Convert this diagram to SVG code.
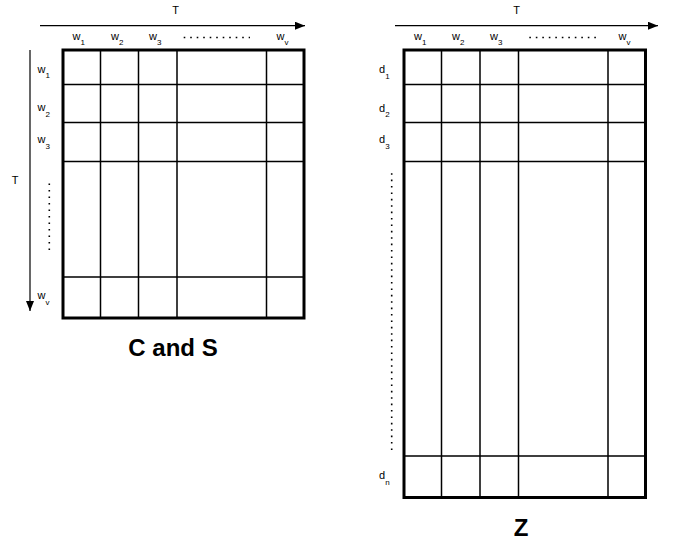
<svg xmlns="http://www.w3.org/2000/svg" width="675" height="541" viewBox="0 0 675 541">
<style>
.lbl{font-family:"Liberation Sans",Arial,sans-serif;font-size:11px;fill:#000}
.sub{font-size:8px}
.title{font-family:"Liberation Sans",Arial,sans-serif;font-size:24px;font-weight:bold;fill:#000}
.outer{fill:#fff;stroke:#000;stroke-width:3}
.grid{stroke:#000;stroke-width:1.5;fill:none}
.axis{stroke:#000;stroke-width:1.2;fill:none}
.dots{stroke:#000;stroke-width:1.6;fill:none;stroke-dasharray:1.6 4.9}
</style>
<defs>
<marker id="ah" markerWidth="10" markerHeight="8" refX="10" refY="4" orient="auto" markerUnits="userSpaceOnUse">
<path d="M0,0 L10,4 L0,8 Z" fill="#000"/>
</marker>
</defs>
<g id="connectors">
<line class="axis" x1="40" y1="25.7" x2="305" y2="25.7" marker-end="url(#ah)"/>
<line class="axis" x1="30" y1="50" x2="30" y2="311" marker-end="url(#ah)"/>
<line class="axis" x1="395" y1="25.7" x2="658" y2="25.7" marker-end="url(#ah)"/>
</g>
<g id="matrix-CS">
<rect class="outer" x="63" y="50" width="241" height="268"/>
<path class="grid" d="M100.5,50V318M138.5,50V318M177,50V318M266.5,50V318M63,84.5H304M63,122.5H304M63,161.5H304M63,277H304"/>
<text class="lbl" x="175.5" y="14" text-anchor="middle">T</text>
<text class="lbl" x="72.5" y="39.5">w<tspan class="sub" dy="5.5">1</tspan></text>
<text class="lbl" x="111" y="39.5">w<tspan class="sub" dy="5.5">2</tspan></text>
<text class="lbl" x="149" y="39.5">w<tspan class="sub" dy="5.5">3</tspan></text>
<line class="dots" x1="183.7" y1="37.5" x2="250" y2="37.5"/>
<text class="lbl" x="276.5" y="39.5">w<tspan class="sub" dy="5.5">v</tspan></text>
<text class="lbl" x="15" y="184" text-anchor="middle">T</text>
<text class="lbl" x="37.5" y="72.7">w<tspan class="sub" dy="5.5">1</tspan></text>
<text class="lbl" x="37.5" y="111">w<tspan class="sub" dy="5.5">2</tspan></text>
<text class="lbl" x="37.5" y="143.3">w<tspan class="sub" dy="5.5">3</tspan></text>
<line class="dots" x1="49.3" y1="183.5" x2="49.3" y2="250"/>
<text class="lbl" x="37.5" y="299">w<tspan class="sub" dy="5.5">v</tspan></text>
<text class="title" x="173" y="356" text-anchor="middle">C and S</text>
</g>
<g id="matrix-Z">
<rect class="outer" x="404" y="50" width="241.5" height="447.5"/>
<path class="grid" d="M441.5,50V497.5M480,50V497.5M518.5,50V497.5M608,50V497.5M404,84.5H645.5M404,122.5H645.5M404,161.5H645.5M404,456H645.5"/>
<text class="lbl" x="516.7" y="14" text-anchor="middle">T</text>
<text class="lbl" x="414" y="39.5">w<tspan class="sub" dy="5.5">1</tspan></text>
<text class="lbl" x="452" y="39.5">w<tspan class="sub" dy="5.5">2</tspan></text>
<text class="lbl" x="490" y="39.5">w<tspan class="sub" dy="5.5">3</tspan></text>
<line class="dots" x1="529.3" y1="37.5" x2="596" y2="37.5"/>
<text class="lbl" x="618.5" y="39.5">w<tspan class="sub" dy="5.5">v</tspan></text>
<text class="lbl" x="379" y="73.3">d<tspan class="sub" dy="5.5">1</tspan></text>
<text class="lbl" x="379" y="111.7">d<tspan class="sub" dy="5.5">2</tspan></text>
<text class="lbl" x="379" y="143.3">d<tspan class="sub" dy="5.5">3</tspan></text>
<line class="dots" x1="391.7" y1="173.2" x2="391.7" y2="450.5" style="stroke-dasharray:1.6 4.8"/>
<text class="lbl" x="379" y="479.3">d<tspan class="sub" dy="5.5">n</tspan></text>
<text class="title" x="521" y="536" text-anchor="middle">Z</text>
</g>
</svg>
